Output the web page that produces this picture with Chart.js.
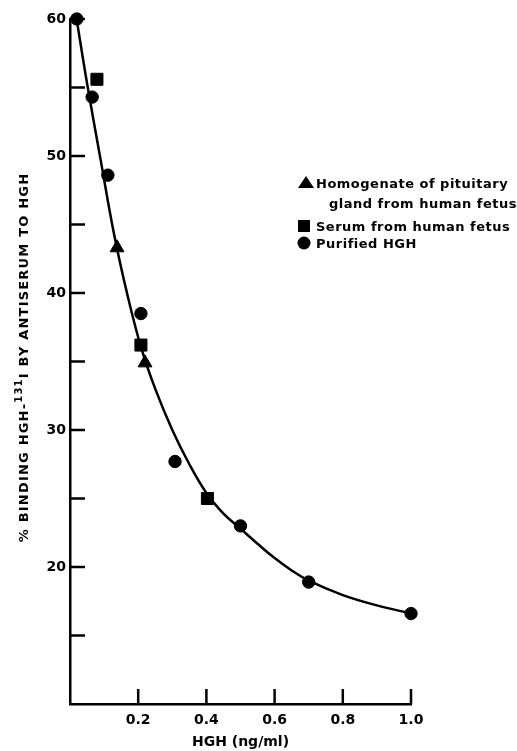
<!DOCTYPE html>
<html>
<head>
<meta charset="utf-8">
<script src="https://cdn.jsdelivr.net/npm/chart.js@4"></script>
<style>
  body { margin: 0; background: #fff; }
  #wrap { width: 517px; height: 751px; position: relative; }
</style>
</head>
<body>
<div id="wrap"><canvas id="grafico"></canvas></div>
<script>
// valores
const homogenadoX = [0.138, 0.22];
const homogenadoY = [43.3, 34.9];
const soroX = [0.079, 0.208, 0.403];
const soroY = [55.6, 36.2, 25.0];
const purificadoX = [0.02, 0.065, 0.111, 0.208, 0.308, 0.50, 0.70, 1.0];
const purificadoY = [60.0, 54.3, 48.6, 38.5, 27.7, 23.0, 18.9, 16.6];
// curva ajustada (pontos lidos ao longo da linha)
const curvaX = [0.02, 0.05, 0.09, 0.13, 0.17, 0.21, 0.25, 0.30, 0.35, 0.40, 0.45, 0.50, 0.55, 0.60, 0.65, 0.70, 0.80, 0.90, 1.0];
const curvaY = [59.9, 55.3, 49.7, 44.2, 39.7, 35.9, 33.0, 30.0, 27.5, 25.4, 23.9, 22.8, 21.7, 20.65, 19.75, 19.0, 17.95, 17.2, 16.6];

const legendaItens = [
    { estilo: 'triangle', linhas: ['Homogenate of pituitary', 'gland from human fetus'] },
    { estilo: 'rect', linhas: ['Serum from human fetus'] },
    { estilo: 'circle', linhas: ['Purified HGH'] }
];

const pares = (xs, ys) => xs.map((x, i) => ({ x: x, y: ys[i] }));
const FONTE = "'DejaVu Sans', sans-serif";

// ticks para dentro + título do eixo y + legenda
const extras = {
    id: 'extras',
    afterDraw(chart) {
        const ctx = chart.ctx;
        const area = chart.chartArea;
        const sx = chart.scales.x, sy = chart.scales.y;
        ctx.save();
        ctx.strokeStyle = '#000';
        ctx.lineWidth = 2.5;
        sy.ticks.forEach(t => {
            if (t.value <= sy.min) return;
            const y = sy.getPixelForValue(t.value);
            ctx.beginPath(); ctx.moveTo(area.left, y); ctx.lineTo(area.left + 15, y); ctx.stroke();
        });
        sx.ticks.forEach(t => {
            if (t.value <= sx.min) return;
            const x = sx.getPixelForValue(t.value);
            ctx.beginPath(); ctx.moveTo(x, area.bottom); ctx.lineTo(x, area.bottom - 15); ctx.stroke();
        });

        // título do eixo y com expoente
        ctx.fillStyle = '#000';
        ctx.letterSpacing = '1.2px';
        const partes = [
            { t: '% BINDING HGH-', f: 'bold 13px ' + FONTE, dy: 0 },
            { t: '131', f: 'bold 10px ' + FONTE, dy: -6 },
            { t: 'I BY ANTISERUM TO HGH', f: 'bold 13px ' + FONTE, dy: 0 }
        ];
        let total = 0;
        partes.forEach(p => { ctx.font = p.f; p.w = ctx.measureText(p.t).width; total += p.w; });
        ctx.translate(25, (area.top + area.bottom) / 2 - 4);
        ctx.rotate(-Math.PI / 2);
        ctx.textBaseline = 'middle';
        let px = -total / 2;
        partes.forEach(p => { ctx.font = p.f; ctx.fillText(p.t, px, p.dy); px += p.w; });
        ctx.setTransform(1, 0, 0, 1, 0, 0);

        // legenda
        ctx.font = 'bold 13px ' + FONTE;
        ctx.letterSpacing = '0.5px';
        ctx.textBaseline = 'alphabetic';
        const posY = [[188, 208], [231], [248]];
        legendaItens.forEach((item, i) => {
            const my = posY[i][0] - 5;
            ctx.beginPath();
            if (item.estilo === 'triangle') {
                ctx.moveTo(306, my - 7); ctx.lineTo(314, my + 5); ctx.lineTo(298, my + 5); ctx.closePath();
            } else if (item.estilo === 'rect') {
                ctx.rect(298, my - 6, 12, 12);
            } else {
                ctx.arc(304, my, 6.5, 0, Math.PI * 2);
            }
            ctx.fill();
            item.linhas.forEach((linha, j) => {
                ctx.fillText(linha, j === 0 ? 316 : 329, posY[i][j]);
            });
        });
        ctx.restore();
    }
};

const ctx = document.getElementById('grafico').getContext('2d');
const grafico = new Chart(ctx, {
    type: 'scatter',
    data: {
        datasets: [
            {
                label: 'curva',
                data: pares(curvaX, curvaY),
                showLine: true,
                borderColor: '#000',
                borderWidth: 2.5,
                pointRadius: 0,
                tension: 0.4,
                clip: false
            },
            {
                label: 'Homogenate of pituitary gland from human fetus',
                data: pares(homogenadoX, homogenadoY),
                pointStyle: 'triangle',
                pointRadius: 8,
                backgroundColor: '#000',
                borderColor: '#000',
                clip: false
            },
            {
                label: 'Serum from human fetus',
                data: pares(soroX, soroY),
                pointStyle: 'rect',
                pointRadius: 8.5,
                backgroundColor: '#000',
                borderColor: '#000',
                clip: false
            },
            {
                label: 'Purified HGH',
                data: pares(purificadoX, purificadoY),
                pointStyle: 'circle',
                pointRadius: 6.2,
                backgroundColor: '#000',
                borderColor: '#000',
                clip: false
            }
        ]
    },
    options: {
        responsive: true,
        maintainAspectRatio: false,
        animation: false,
        layout: { padding: { left: 0, top: 19, right: 106, bottom: 0 } },
        plugins: {
            legend: { display: false },
            tooltip: { enabled: false }
        },
        scales: {
            x: {
                min: 0,
                max: 1,
                afterFit: s => { s.height = 47; },
                grid: { display: false, drawTicks: false },
                border: { display: true, color: '#000', width: 2.5 },
                ticks: {
                    stepSize: 0.2,
                    padding: 8,
                    color: '#000',
                    font: { family: FONTE, size: 14, weight: 'bold' },
                    callback: v => (v > 0 ? v.toFixed(1) : '')
                },
                title: {
                    display: true,
                    text: 'HGH (ng/ml)',
                    color: '#000',
                    padding: 0,
                    font: { family: FONTE, size: 14, weight: 'bold' }
                }
            },
            y: {
                min: 10,
                max: 60,
                afterFit: s => { s.width = 70; },
                grid: { display: false, drawTicks: false },
                border: { display: true, color: '#000', width: 2.5 },
                ticks: {
                    stepSize: 5,
                    padding: 4,
                    color: '#000',
                    font: { family: FONTE, size: 14, weight: 'bold' },
                    callback: v => (v % 10 === 0 && v >= 20 ? v : '')
                }
            }
        }
    },
    plugins: [extras]
});
</script>
</body>
</html>
